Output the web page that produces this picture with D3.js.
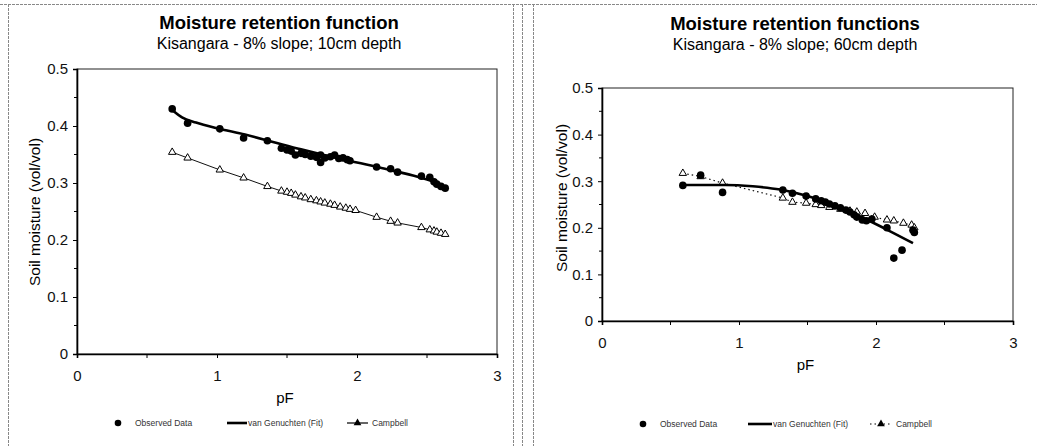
<!DOCTYPE html>
<html>
<head>
<meta charset="utf-8">
<script src="https://cdn.jsdelivr.net/npm/d3@7"></script>
<style>
  body { margin: 0; background: #fff; }
  svg { display: block; font-family: "Liberation Sans", Arial, sans-serif; }
</style>
</head>
<body>
<svg width="1037" height="446"></svg>
<script>
// ---- data (pF, soil moisture vol/vol) ----
const xTicks = [0, 1, 2, 3];
const xMinorTicks = [0.5, 1.5, 2.5];
const yTicks = [0, 0.1, 0.2, 0.3, 0.4, 0.5];
const yMinorTicks = [0.05, 0.15, 0.25, 0.35, 0.45];
const legendLabels = ["Observed Data", "van Genuchten (Fit)", "Campbell"];

// 10 cm depth
const obs10 = [
  [0.68, 0.430], [0.79, 0.405], [1.02, 0.395], [1.19, 0.379], [1.36, 0.374],
  [1.46, 0.361], [1.50, 0.358], [1.53, 0.356], [1.56, 0.349], [1.60, 0.352],
  [1.63, 0.350], [1.67, 0.347], [1.71, 0.345], [1.74, 0.349], [1.74, 0.336],
  [1.77, 0.344], [1.81, 0.346], [1.84, 0.349], [1.87, 0.343], [1.90, 0.344],
  [1.93, 0.341], [1.95, 0.339], [2.14, 0.328], [2.24, 0.325], [2.29, 0.319],
  [2.46, 0.312], [2.52, 0.310], [2.55, 0.302], [2.57, 0.298], [2.60, 0.294],
  [2.63, 0.291]
];
const vg10 = [
  [0.68, 0.428], [0.75, 0.415], [0.85, 0.406], [1.0, 0.396], [1.2, 0.385],
  [1.4, 0.372], [1.6, 0.359], [1.8, 0.347], [2.0, 0.336], [2.2, 0.325],
  [2.4, 0.313], [2.55, 0.302], [2.65, 0.291]
];
const camp10 = [
  [0.68, 0.354], [0.79, 0.344], [1.02, 0.323], [1.19, 0.309], [1.36, 0.294],
  [1.46, 0.286], [1.50, 0.284], [1.53, 0.282], [1.56, 0.279], [1.60, 0.276],
  [1.63, 0.274], [1.67, 0.271], [1.71, 0.269], [1.74, 0.267], [1.77, 0.265],
  [1.81, 0.263], [1.84, 0.261], [1.88, 0.258], [1.92, 0.256], [1.95, 0.254],
  [1.99, 0.252], [2.14, 0.240], [2.24, 0.233], [2.29, 0.230], [2.46, 0.222],
  [2.52, 0.218], [2.55, 0.216], [2.57, 0.214], [2.60, 0.212], [2.63, 0.210]
];

// 60 cm depth
const obs60 = [
  [0.59, 0.291], [0.72, 0.313], [0.88, 0.276], [1.32, 0.281], [1.39, 0.274],
  [1.49, 0.268], [1.56, 0.262], [1.60, 0.258], [1.63, 0.255], [1.66, 0.251],
  [1.70, 0.247], [1.74, 0.243], [1.78, 0.238], [1.81, 0.234], [1.84, 0.228],
  [1.86, 0.223], [1.90, 0.217], [1.93, 0.215], [1.97, 0.219], [2.08, 0.200],
  [2.13, 0.135], [2.19, 0.152], [2.27, 0.195], [2.28, 0.190]
];
const vg60 = [
  [0.59, 0.292], [0.9, 0.292], [1.1, 0.289], [1.3, 0.282], [1.5, 0.268],
  [1.7, 0.248], [1.9, 0.222], [2.1, 0.193], [2.27, 0.167]
];
const camp60 = [
  [0.59, 0.317], [0.72, 0.310], [0.88, 0.296], [1.32, 0.264], [1.39, 0.255],
  [1.49, 0.253], [1.56, 0.250], [1.60, 0.248], [1.66, 0.244], [1.74, 0.240],
  [1.81, 0.236], [1.86, 0.234], [1.92, 0.231], [1.99, 0.223], [2.08, 0.217],
  [2.13, 0.215], [2.20, 0.210], [2.26, 0.206], [2.28, 0.200]
];

const svg = d3.select("svg");

// scanned page frames
const frames = svg.append("g")
  .attr("fill", "none")
  .attr("stroke", "#888")
  .attr("stroke-width", 1)
  .attr("stroke-dasharray", "3,1");
frames.append("line").attr("x1", 0).attr("x2", 1037).attr("y1", 4.5).attr("y2", 4.5);
[8.5, 513.5, 522.5, 533.5].forEach(x =>
  frames.append("line").attr("x1", x).attr("x2", x).attr("y1", 4).attr("y2", 446));

function drawPanel(cfg) {
  const g = svg.append("g");
  const x = d3.scaleLinear().domain([0, 3]).range([cfg.left, cfg.right]);
  const y = d3.scaleLinear().domain([0, 0.5]).range([cfg.bottom, cfg.top]);

  // titles
  g.append("text")
    .attr("x", cfg.cx).attr("y", cfg.titleY)
    .attr("text-anchor", "middle")
    .attr("font-size", 18.5).attr("font-weight", "bold")
    .text(cfg.title);
  g.append("text")
    .attr("x", cfg.cx).attr("y", cfg.titleY + 20)
    .attr("text-anchor", "middle")
    .attr("font-size", 16)
    .text(cfg.subtitle);

  // plot box
  g.append("rect")
    .attr("x", cfg.left).attr("y", cfg.top)
    .attr("width", cfg.right - cfg.left).attr("height", cfg.bottom - cfg.top)
    .attr("fill", "none").attr("stroke", "#222").attr("stroke-width", 1);

  // axes
  const yAxis = g.append("g")
    .attr("transform", `translate(${cfg.left},0)`)
    .call(d3.axisLeft(y).tickValues(yTicks).tickSize(4).tickPadding(5)
      .tickFormat(d => d === 0 ? "0" : d3.format(".1f")(d)));
  yAxis.append("g").selectAll("line").data(yMinorTicks).join("line")
    .attr("x2", -3).attr("y1", d => y(d)).attr("y2", d => y(d))
    .attr("stroke", "#000");

  const xAxis = g.append("g")
    .attr("transform", `translate(0,${cfg.bottom})`)
    .call(d3.axisBottom(x).tickValues(xTicks).tickSize(4).tickPadding(12)
      .tickFormat(d3.format("d")));
  xAxis.append("g").selectAll("line").data(xMinorTicks).join("line")
    .attr("y2", 4).attr("x1", d => x(d)).attr("x2", d => x(d))
    .attr("stroke", "#000");

  [yAxis, xAxis].forEach(a => {
    a.attr("font-size", 15).attr("font-family", "Liberation Sans, Arial, sans-serif");
    a.select(".domain").attr("stroke-width", 1.6);
    a.selectAll(".tick text").attr("fill", "#111");
  });

  // axis titles
  g.append("text")
    .attr("transform", `translate(${cfg.yLabelX},${cfg.yLabelY}) rotate(-90)`)
    .attr("text-anchor", "middle")
    .attr("font-size", 15.5)
    .text("Soil moisture (vol/vol)");
  g.append("text")
    .attr("x", (cfg.left + cfg.right) / 2 - 2).attr("y", cfg.bottom + 49)
    .attr("text-anchor", "middle")
    .attr("font-size", 15)
    .text("pF");

  const line = d3.line().x(d => x(d[0])).y(d => y(d[1]));

  // Campbell
  g.append("path").datum(cfg.camp)
    .attr("fill", "none").attr("stroke", "#111")
    .attr("stroke-width", cfg.campDash ? 1.2 : 1)
    .attr("stroke-dasharray", cfg.campDash || null)
    .attr("d", line);
  const tri = d3.symbol().type(d3.symbolTriangle).size(24);
  g.append("g").selectAll("path").data(cfg.camp).join("path")
    .attr("transform", d => `translate(${x(d[0])},${y(d[1])})`)
    .attr("d", tri)
    .attr("fill", "#fff").attr("stroke", "#000").attr("stroke-width", 1);

  // observed
  g.append("g").selectAll("circle").data(cfg.obs).join("circle")
    .attr("cx", d => x(d[0])).attr("cy", d => y(d[1]))
    .attr("r", 3.8).attr("fill", "#000");

  // van Genuchten
  g.append("path").datum(cfg.vg)
    .attr("fill", "none").attr("stroke", "#000").attr("stroke-width", 2.6)
    .attr("d", d3.line().curve(d3.curveMonotoneX).x(d => x(d[0])).y(d => y(d[1])));

  // legend
  const lg = g.append("g").attr("font-size", 8.5).attr("fill", "#333");
  const L = cfg.legend;
  lg.append("circle").attr("cx", L.dot).attr("cy", L.y).attr("r", 3.3).attr("fill", "#000");
  lg.append("text").attr("x", L.t1).attr("y", L.y + 3).text(legendLabels[0]);
  lg.append("line").attr("x1", L.l1[0]).attr("x2", L.l1[1])
    .attr("y1", L.y).attr("y2", L.y).attr("stroke", "#000").attr("stroke-width", 2.6);
  lg.append("text").attr("x", L.l1[1] + 1).attr("y", L.y + 3).text(legendLabels[1]);
  lg.append("line").attr("x1", L.l2[0]).attr("x2", L.l2[1])
    .attr("y1", L.y).attr("y2", L.y).attr("stroke", "#000")
    .attr("stroke-width", 1.2).attr("stroke-dasharray", cfg.campDash || null);
  lg.append("path")
    .attr("transform", `translate(${(L.l2[0] + L.l2[1]) / 2},${L.y})`)
    .attr("d", d3.symbol().type(d3.symbolTriangle).size(26))
    .attr("fill", "#000");
  lg.append("text").attr("x", L.l2[1] + 4).attr("y", L.y + 3).text(legendLabels[2]);
}

drawPanel({
  title: "Moisture retention function",
  subtitle: "Kisangara - 8% slope; 10cm depth",
  cx: 279, titleY: 29,
  left: 77, right: 497, top: 69, bottom: 354,
  yLabelX: 40, yLabelY: 212,
  obs: obs10, vg: vg10, camp: camp10, campDash: null,
  legend: { y: 423, dot: 118, t1: 135, l1: [227, 247], l2: [347, 368] }
});

drawPanel({
  title: "Moisture retention functions",
  subtitle: "Kisangara - 8% slope; 60cm depth",
  cx: 795, titleY: 30,
  left: 602, right: 1013, top: 88, bottom: 321,
  yLabelX: 567, yLabelY: 198,
  obs: obs60, vg: vg60, camp: camp60, campDash: "1.5,3",
  legend: { y: 424, dot: 643, t1: 660, l1: [748, 772], l2: [870, 892] }
});
</script>
</body>
</html>
